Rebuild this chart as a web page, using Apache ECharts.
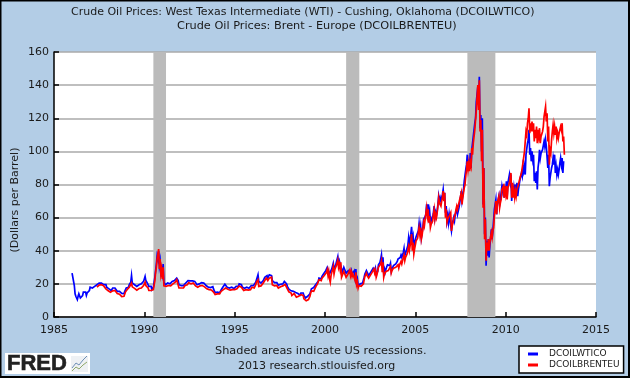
<!DOCTYPE html>
<html><head><meta charset="utf-8">
<script src="https://cdn.jsdelivr.net/npm/echarts@6/dist/echarts.min.js"></script>
<style>html,body{margin:0;padding:0;background:#b3cde6}#c{width:630px;height:378px}</style>
</head><body><div id="c"></div>
<script>
const titleLine1 = "Crude Oil Prices: West Texas Intermediate (WTI) - Cushing, Oklahoma (DCOILWTICO)";
const titleLine2 = "Crude Oil Prices: Brent - Europe (DCOILBRENTEU)";
const footerLine1 = "Shaded areas indicate US recessions.";
const footerLine2 = "2013 research.stlouisfed.org";
const yAxisName = "(Dollars per Barrel)";
const seriesNames = ["DCOILWTICO", "DCOILBRENTEU"];
const recessions = [[1990.5, 1991.2], [2001.17, 2001.9], [2007.88, 2009.43]];
const wtiStart = 1986, brentStart = 1987.375, stepYears = 1 / 24;
const wtiValues = [
26.5,26,25.5,19,14,12.5,12,10.5,12.5,14,13,11.5,12.5,11,13,15,16,14.5,15,13,14.5,15.5,15.5,16,
18,18.5,18,17.5,18,18.5,18.5,19,18.8,19.5,19.5,20,20.5,21.5,21,20.5,20,19.5,19.5,20,19,19.5,18,17.5,
17,17,16.5,16.5,16,16.5,17.5,18,17.5,17.5,16.5,16.5,15.5,15.8,15.5,15.5,15,14.8,14.3,14,13.8,14.2,15.5,16.5,
17.5,18,18,18,19.5,20.5,21,25,20.5,20,20,19.5,19.5,19.3,18.5,18.8,19,19.5,20,20,20,20,21,21.5,
22.5,24.5,22,21.5,20.5,20,18.5,18.5,18,18.5,16.5,17,18,19,24,28,32,37,35,40,31,34,27,29,
26,32,21,21,19.5,20,20.5,20.5,21,21,20,20.5,21,21.5,21.5,21.5,22,22.2,23,23.5,22.5,22,19.5,19.5,
18.8,19,19,19.3,19,19,20,20.5,21,21,22,22.8,22,21.8,21.5,21.5,21.8,22,21.5,21.5,20.5,20.3,19.5,19.5,
20,20,20.5,21,20.8,20.8,20.3,20.5,20,20,19,19,18,18,18,18,17.8,17.8,18,18.3,16.8,16.5,14.8,14.5,
15,15,14.8,14.6,14.6,14.8,16.3,16.5,17.8,18,19,19.8,19.8,20,18,18.2,17.5,17.5,17.5,17.8,18,18,17.2,17.2,
18,18.2,18.5,18.5,18.5,18.7,20,20.2,19.6,19.5,18.2,18.2,17.3,17.3,18,18,18,18.3,17.4,17.4,18,18,19,19.2,
18.5,19,18.8,19.5,21,22.5,23.5,25.5,21.5,21,20.5,20.5,21.3,21.5,22,22.5,24,24.5,25,25,23.5,24,25.5,26.5,
25.5,25,22,21.8,21,20.8,19.8,19.8,20.8,20.8,19.2,19.3,19.6,19.8,20,20,20,20,21.5,21.3,20.3,20,18.5,18,
16.8,16.5,16,15.8,15,15,15.5,15.5,15,14.8,13.8,13.6,14.2,14.2,13.4,13.2,14.5,15.5,14.5,14.5,13,12.5,11.5,11,
12.2,12.5,12,12.2,14,15.5,17,18,17.8,17.8,18,18,19.8,20.3,21,21.5,23.5,24.5,22.5,23,24.5,25.5,26,26.5,
26,28,29,30,29.5,30,26,25,26.5,29,30,32.5,29.5,30.5,31,33,33,36.5,32,34,34,34.5,29,27,
28,30,29,30,26.5,27.5,27.5,28,28.5,29,26,28,26,27,27,28,24,29,21.5,23,19,20,19,20,
19.5,20.5,20.5,21,24,26,26.5,28,27,27,25,26,26.5,27.5,28,29,29.5,30.5,28,29.5,26,27,27.5,31.5,
32,33,35,37.5,31,36,27,29,27,29,30,31.5,30.5,31.5,31,32.5,27.5,29,29.5,31,30.5,32,32,33,
33.5,35,34,36,36,37.5,36,37.5,39,41.5,37,38.5,40,41,43,47.5,43,47.5,50,54.5,47,49,42,45,
45,48.5,47.5,49.5,52,56.5,52,55,48,51,54,59,58,60.5,62,68,64,68,61,64,58,59.5,58,60,
63,67,60,63,61,64,68,73,70,72,70,72,74,77,71,75,63,67,58,61,57,62,61,63,
52,56,58,60,58,62,63,65,62,64,66,69,72,76,70,73,77,82,83,89,92,98,89,95,
90,99,90,101,102,109,108,117,120,130,130,139,128,145,114,122,100,120,68,90,50,60,31,46,
37,47,36,43,44,53,47,52,52,65,66,71,62,68,68,73,68,71,71,79,76,80,72,79,
75,82,73,81,80,86,82,86,70,79,73,78,74,80,73,81,73,77,78,83,82,87,85,91,
88,91,86,98,99,105,107,113,98,102,94,100,95,98,82,87,81,88,77,90,94,101,96,99,
98,101,101,106,103,107,103,104,90,98,79,84,85,90,92,96,92,98,87,91,86,89,86,89,
93,96,92,96,87,94
];
const brentValues = [
18,18.3,18.8,19.3,19.5,20,19.5,19,18.5,18.8,18,18,17,16.8,16.5,
15.8,15.8,15.2,15,14.5,15,15.8,16.5,16,16,15.3,15,14.2,14.3,14,13.8,13,12.8,12.3,12.3,12,12.5,13.5,15.2,
16,16.5,16.5,16.5,18,18.8,19,20.5,18.2,18,17.5,17.3,16.8,16.8,16.2,16.5,16.8,17.2,17.3,17.5,17.5,17.5,18.5,19,
20,21,19,18.8,17.8,17.5,16,16,15.8,16,15.3,15.8,16.5,17.5,22,27,30,35,34,41,29,35,26,29,
23,30,18.8,19,18,18.5,19,19.3,19,18.8,18.5,18.8,19,19.5,20,20.2,20.5,21,22,22.5,20.8,20.5,17.5,18,
17,17.5,17.5,17.6,17.5,17.5,19,19.3,19.5,19.5,20.5,20.8,20,20,20,20,20.5,20.5,20,20,18.8,18.8,18,18,
18,18.3,18.8,19,19,19,18.5,18.5,18.2,18.2,17,17,16.5,16.5,16.5,16.5,16.2,16.3,16.5,16.5,15,15,13.6,13.5,
14,14,14,14,14,14,15.5,15.5,16.2,16.5,16.5,17.3,17.5,18,16.8,16.8,16.2,16.2,16.2,16.4,16.5,16.5,15.7,15.5,
16.5,16.8,17,17,17.2,17.2,18.7,18.8,18,18,16.8,16.8,16,16,16.5,16.5,16.8,16.8,16.2,16.2,16.5,16.5,17.5,18,
17.5,17.8,17.5,17.8,19.5,21,21,22.5,18.5,18.8,18.5,18.8,19.5,20,20.5,20.5,22,23,23.5,24,22,22.3,23.5,24.5,
23.5,24,19.5,20.5,18.8,18.8,17.8,17.8,19,19,17.5,17.5,18.3,18.3,18.3,18.5,18.8,18.8,19.7,19.7,18.8,18.8,17,17,
15.2,15,14.5,14.5,13,13.5,14,14.2,14.2,14.2,12,12.3,12.3,12.5,11.8,12,13.5,14,13,13,11,11,10,9.8,
11,11,10.5,11,12.5,14.5,15.8,16.5,15.5,15.5,15.8,15.8,18.5,19,20,20.5,22.5,23.5,21.5,22,23.5,24.5,24.5,25,
24.5,26,27,28.5,25,27.5,23,21,25,27,28.5,30.5,26,28.5,28,31,30,34.5,30,32,29,33,24,23,
25,27.5,27,28,24,25,25.5,26.5,26.5,28.5,25,27,24.5,26,25,26,22,27,19.5,21,17.5,19,18,19.5,
18.5,19.5,19.5,20,22.5,24.5,25,26.5,25,25.5,23.5,24.5,25,26,26.5,27.5,27.5,29,26.5,28,24,25.5,26,30,
29,30.5,32,34,27,33,24,26,25,27.5,27,28.5,28,28.5,29,30.5,26.5,28,28,29.5,28.5,30,30,30.5,
30,31.5,29.5,31.5,32,33.5,32,34,36,37.5,34,36,37,38,40,42.5,40,43,45,50,40,45,38,41,
42,46,45,47.5,51,54,50,54,47,49.5,53,57,55,59,60,66,61,65,57,61,54,56,55,58,
62,65,59,62,60,63,67,72,69,70,67,70,72,76,70,75,60,65,57,59,58,61,60,63,
52,55,57,59,59,62,65,67,65,67,69,71,72,75,68,72,75,78,80,85,89,94,89,93,
88,93,91,102,98,105,104,113,114,125,126,140,125,143,112,119,94,113,66,90,47,59,34,45,
40,47,40,45,44,51,48,52,54,61,65,70,62,69,68,73,66,69,71,77,76,79,72,77,
74,79,71,78,78,81,82,87,72,81,72,76,72,76,73,77,76,80,81,84,84,87,88,93,
94,100,101,112,110,117,120,126,111,117,112,118,112,117,106,113,108,115,105,113,109,114,105,109,
108,112,115,121,122,127,118,123,106,115,92,101,99,107,112,116,111,115,110,115,108,111,108,111,
111,115,113,117,106,109,98
];
const toPairs = (vals, start) => vals.map((v, i) => [start + i * stepYears, v]);
const font = "DejaVu Sans";
const txt = "#1a1a1a";
const tStyle = size => ({ fontSize: size, fontWeight: 'normal', color: txt, fontFamily: font });
const chart = echarts.init(document.getElementById('c'));
chart.setOption({
  animation: false,
  backgroundColor: '#b3cde6',
  textStyle: { fontFamily: font },
  title: [
    { text: titleLine1, left: 71, top: 3, padding: [4, 0, 0, 0], textStyle: tStyle(11) },
    { text: titleLine2, left: 177, top: 17, padding: [4, 0, 0, 0], textStyle: tStyle(11.3) },
    { text: footerLine1, left: 215, top: 342, padding: [4, 0, 0, 0], textStyle: tStyle(11.3) },
    { text: footerLine2, left: 238, top: 357, padding: [4, 0, 0, 0], textStyle: tStyle(11) }
  ],
  grid: { left: 54, right: 34, top: 52, bottom: 61, backgroundColor: '#fff', show: true, borderWidth: 0 },
  legend: {
    orient: 'vertical', left: 519, top: 346, width: 107,
    padding: [3, 4, 3, 9], itemGap: 1, itemWidth: 10, itemHeight: 3, icon: 'rect',
    backgroundColor: '#fff', borderColor: '#000', borderWidth: 1.5, borderRadius: 0,
    data: seriesNames,
    textStyle: { fontSize: 9, color: txt, fontFamily: font, padding: [0, 0, 0, 6], lineHeight: 10 }
  },
  xAxis: {
    type: 'value', min: 1985, max: 2015, interval: 5,
    axisLine: { show: true, lineStyle: { color: '#000', width: 1.5 } },
    axisTick: { show: true, inside: true, length: 5, lineStyle: { color: '#000', width: 1.5 } },
    axisLabel: { fontSize: 11, color: txt, margin: 8, formatter: v => String(v), fontFamily: font, showMaxLabel: true, showMinLabel: true },
    splitLine: { show: false }
  },
  yAxis: {
    type: 'value', min: 0, max: 160, interval: 20,
    axisLine: { show: true, lineStyle: { color: '#000', width: 1.5 } },
    axisTick: { show: true, inside: true, length: 5, lineStyle: { color: '#000', width: 1.5 } },
    axisLabel: { fontSize: 11, color: txt, margin: 5, fontFamily: font },
    splitLine: { show: true, lineStyle: { color: '#aaaaaa', width: 1.5 } }
  },
  series: [
    {
      name: 'recessions', type: 'line', data: [], z: 1, silent: true, legendHoverLink: false,
      markArea: { silent: true, itemStyle: { color: '#bbbbbb', opacity: 1 },
        data: recessions.map(r => [{ xAxis: r[0] }, { xAxis: r[1] }]) }
    },
    { name: seriesNames[0], type: 'line', data: toPairs(wtiValues, wtiStart), z: 3, showSymbol: false, symbol: 'none',
      lineStyle: { color: '#0000ff', width: 1.7, join: 'miter' }, itemStyle: { color: '#0000ff' } },
    { name: seriesNames[1], type: 'line', data: toPairs(brentValues, brentStart), z: 4, showSymbol: false, symbol: 'none',
      lineStyle: { color: '#ff0000', width: 1.7, join: 'miter' }, itemStyle: { color: '#ff0000' } }
  ],
  graphic: [
    { type: 'rect', z: 100, silent: true, shape: { x: 0.5, y: 0.5, width: 628.5, height: 376.5 }, style: { fill: 'none', stroke: '#000', lineWidth: 2 } },
    { type: 'text', z: 101, silent: true, x: 15, y: 200, rotation: Math.PI / 2, style: { text: yAxisName, fontFamily: font, fontSize: 11, fill: txt, textAlign: 'center', textVerticalAlign: 'middle' } },
    { type: 'rect', z: 100, silent: true, shape: { x: 5, y: 353, width: 85, height: 21 }, style: { fill: '#fff' } },
    { type: 'text', z: 101, silent: true, x: 7, y: 353, style: { text: 'FRED', fontFamily: 'Liberation Sans', fontWeight: 'bold', fontSize: 22, fill: '#222', stroke: '#222', lineWidth: 0.6 } },
    { type: 'rect', z: 101, silent: true, shape: { x: 71, y: 356, width: 17, height: 16 }, style: { fill: '#eef1f4' } },
    { type: 'polyline', z: 102, silent: true, shape: { points: [[72, 368], [76, 363], [79, 365], [83, 360], [87, 356]] }, style: { fill: 'none', stroke: '#6f8fb5', lineWidth: 1 } },
    { type: 'polyline', z: 102, silent: true, shape: { points: [[72, 371], [76, 367], [79, 369], [83, 365], [87, 362]] }, style: { fill: 'none', stroke: '#8fa86a', lineWidth: 1 } }
  ]
});
</script></body></html>
